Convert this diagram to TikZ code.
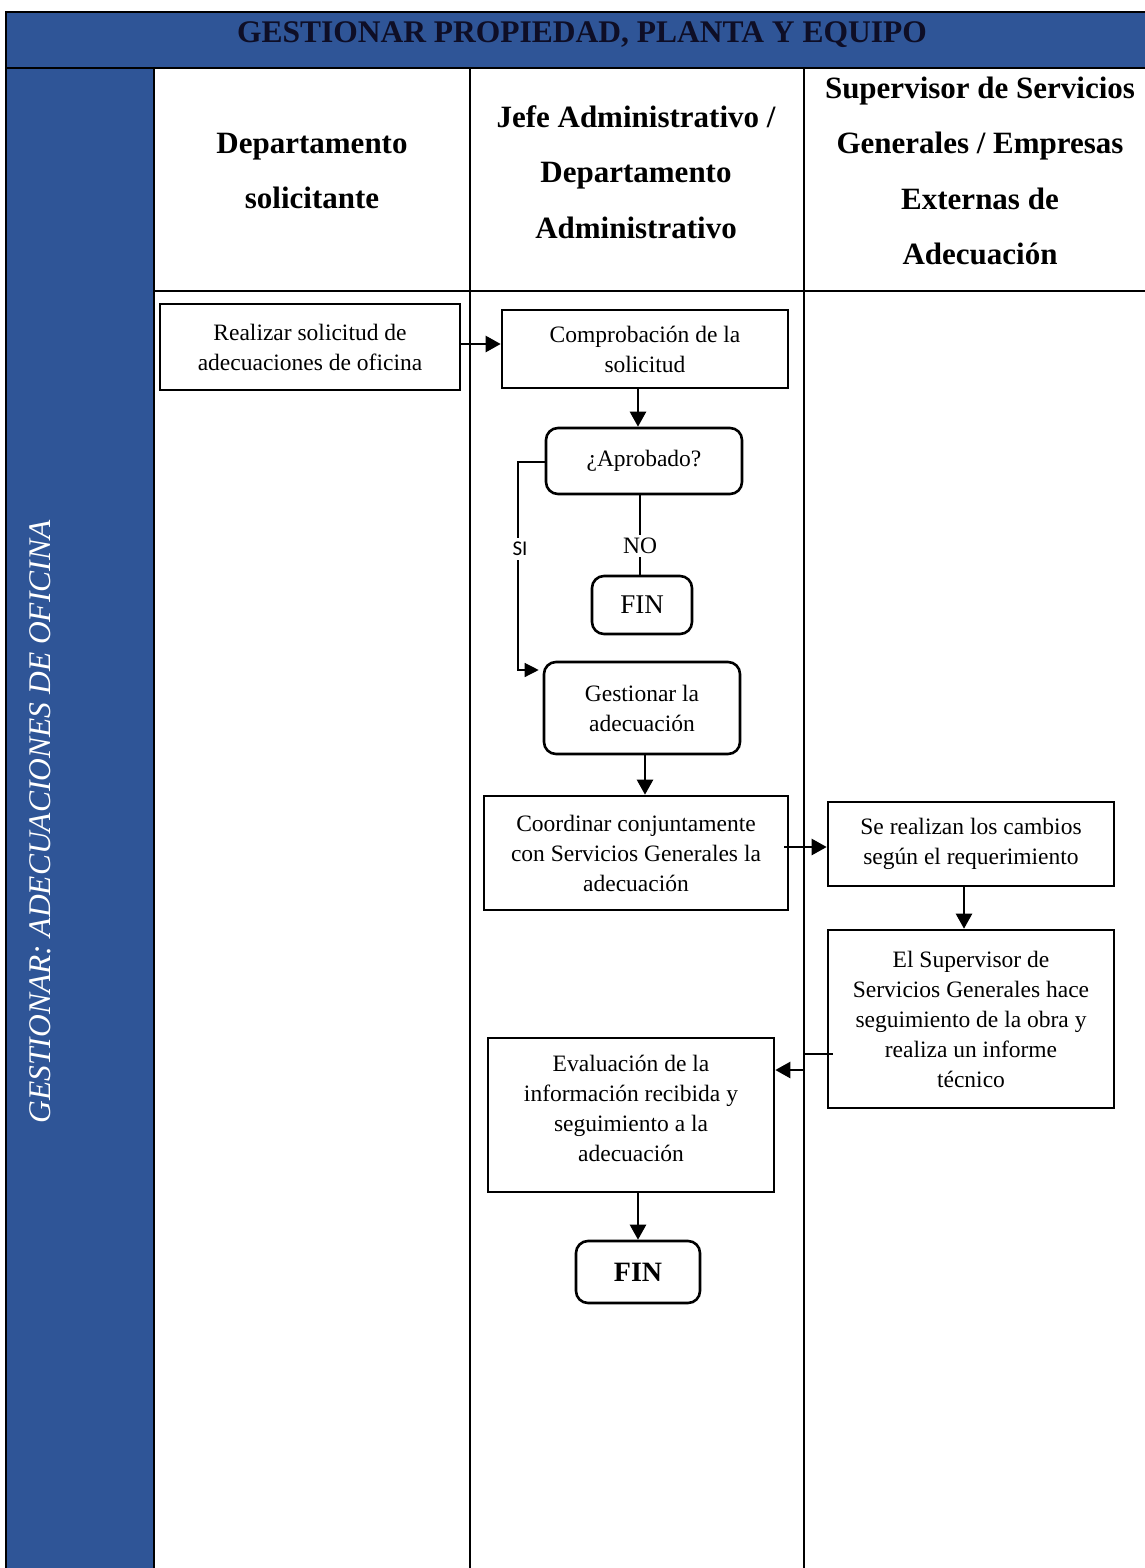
\documentclass[tikz,border=0pt]{standalone}
\usepackage{fontspec}
\setmainfont{Liberation Serif}
\newfontfamily\sifont{Carlito}
\usetikzlibrary{arrows.meta,calc}
\definecolor{laneblue}{RGB}{47,85,151}
\definecolor{titleink}{RGB}{14,14,38}
\newcommand\bodyf{\fontsize{23.5}{30}\selectfont}
\newcommand\headf{\fontsize{31}{55.5}\selectfont\bfseries}
\begin{document}
\begin{tikzpicture}[x=1pt,y=-1pt,
 tbl/.style={line width=2pt},
 box/.style={draw, line width=2.6pt, align=center, font=\bodyf, inner sep=0pt},
 rbox/.style={box, rounded corners=12pt},
 arr/.style={line width=2.4pt, -{Triangle[length=15pt,width=16pt]}},
 thinl/.style={line width=1.3pt},
 hdr/.style={align=center, font=\headf, inner sep=0pt}]

\useasboundingbox (0,0) rectangle (1145,1568);
\fill[laneblue] (6,12) rectangle (1145,68);
\fill[laneblue] (6,68) rectangle (154,1568);
\draw[tbl] (6,1568) -- (6,12) -- (1145,12);
\draw[tbl] (6,68) -- (1145,68);
\draw[tbl] (154,68) -- (154,1568);
\draw[tbl] (470,68) -- (470,1568);
\draw[tbl] (804,68) -- (804,1568);
\draw[tbl] (154,291) -- (1145,291);

\node[font=\fontsize{31.5}{36}\selectfont\bfseries, text=titleink, inner sep=0pt] (title) at (582,35) {GESTIONAR PROPIEDAD, PLANTA Y EQUIPO};
\node[rotate=90, font=\fontsize{31.5}{36}\selectfont\itshape, text=white, inner sep=0pt] (lanelbl) at (40,822) {GESTIONAR: ADECUACIONES DE OFICINA};

\node[hdr] (h1) at (312,171) {Departamento\\solicitante};
\node[hdr] (h2) at (636,172) {Jefe Administrativo /\\Departamento\\Administrativo};
\node[hdr] (h3) at (980,171) {Supervisor de Servicios\\Generales / Empresas\\Externas de\\Adecuación};

\node[box, minimum width=300pt, minimum height=86pt] (solic) at (310,347) {Realizar solicitud de\\adecuaciones de oficina};
\node[box, minimum width=286pt, minimum height=78pt] (compr) at (645,349) {Comprobación de la\\solicitud};
\node[rbox, minimum width=196pt, minimum height=66pt] (aprob) at (644,461) {¿Aprobado?};
\node[font=\bodyf, inner sep=3pt] (no) at (640,546) {NO};
\node[rbox, minimum width=100pt, minimum height=58pt, font=\fontsize{27}{30}\selectfont] (fin1) at (642,605) {FIN};
\node[font=\sifont\fontsize{21}{24}\selectfont, inner sep=4pt] (si) at (520,549) {SI};
\node[rbox, minimum width=196pt, minimum height=92pt] (gest) at (642,708) {Gestionar la\\adecuación};
\node[box, minimum width=304pt, minimum height=114pt] (coord) at (636,853) {Coordinar conjuntamente\\con Servicios Generales la\\adecuación};
\node[box, minimum width=286pt, minimum height=84pt] (camb) at (971,844) {Se realizan los cambios\\según el requerimiento};
\node[box, minimum width=286pt, minimum height=178pt] (superv) at (971,1019) {El Supervisor de\\Servicios Generales hace\\seguimiento de la obra y\\realiza un informe\\técnico};
\node[box, minimum width=286pt, minimum height=154pt] (evalb) at (631,1115) {};
\node[align=center, font=\bodyf, inner sep=0pt] (evalt) at (631,1108) {Evaluación de la\\información recibida y\\seguimiento a la\\adecuación};
\node[rbox, minimum width=124pt, minimum height=62pt, font=\fontsize{28}{30}\selectfont\bfseries] (fin2) at (638,1272) {FIN};

\draw[arr] (solic.east |- 0,344) -- (compr.west |- 0,344);
\draw[arr] (compr.south -| 638,0) -- (aprob.north -| 638,0);
\draw[thinl] (aprob.south -| no) -- (no.north);
\draw[thinl] (no.south) -- (fin1.north -| no);
\coordinate (siT) at (518,462);
\coordinate (siB) at (518,670);
\draw[thinl] (aprob.west |- siT) -- (siT) -- (si.north -| siT);
\draw[thinl, -{Triangle[length=14pt,width=14pt]}] (si.south -| siT) -- (siB) -- ([xshift=-4pt]gest.west |- siB);
\draw[arr] (gest.south -| 645,0) -- (coord.north -| 645,0);
\draw[arr] ([xshift=-5pt]coord.east |- 0,847) -- (camb.west |- 0,847);
\draw[arr] (camb.south -| 964,0) -- (superv.north -| 964,0);
\coordinate (bend) at (804,1054);
\draw[arr] ([xshift=6pt]superv.west |- bend) -- (bend) -- (bend |- 0,1070) -- (evalb.east |- 0,1070);
\draw[arr] (evalb.south -| fin2) -- (fin2.north);
\end{tikzpicture}
\end{document}
